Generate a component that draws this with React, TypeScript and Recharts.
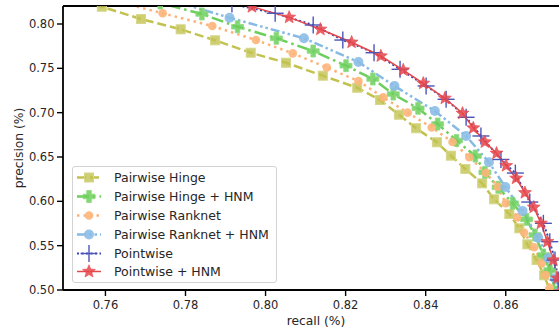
import { LineChart, Line, XAxis, YAxis, Legend, ReferenceLine } from "recharts";

// values (recall on x, precision on y)
const hingeRecall = [0.7512, 0.7591, 0.7689, 0.7788, 0.7874, 0.7963, 0.8051, 0.8143, 0.8229, 0.8286, 0.8333, 0.8376, 0.8428, 0.8463, 0.8499, 0.8541, 0.8571, 0.8609, 0.8634, 0.8654, 0.8677, 0.8696, 0.8711];
const hingePrecision = [0.8304, 0.8195, 0.8056, 0.794, 0.7816, 0.7676, 0.7563, 0.7417, 0.7281, 0.7143, 0.6977, 0.6824, 0.6666, 0.6515, 0.6365, 0.6203, 0.6023, 0.5857, 0.5696, 0.5515, 0.5338, 0.5166, 0.4977];

const hingeHnmRecall = [0.7649, 0.7737, 0.7841, 0.793, 0.8027, 0.8119, 0.8201, 0.8268, 0.8319, 0.8381, 0.843, 0.8477, 0.8524, 0.8548, 0.8581, 0.8617, 0.8652, 0.8673, 0.8694, 0.871, 0.8725];
const hingeHnmPrecision = [0.8338, 0.8237, 0.8113, 0.7969, 0.7839, 0.7695, 0.753, 0.738, 0.721, 0.7049, 0.6872, 0.6686, 0.6511, 0.6327, 0.6158, 0.5978, 0.5797, 0.562, 0.5395, 0.5226, 0.4977];

const ranknetRecall = [0.7537, 0.7619, 0.7743, 0.7867, 0.7976, 0.8068, 0.8153, 0.8232, 0.8294, 0.8355, 0.8415, 0.8467, 0.8509, 0.855, 0.858, 0.86, 0.8629, 0.8646, 0.8671, 0.869, 0.87, 0.871, 0.8718];
const ranknetPrecision = [0.8361, 0.8265, 0.8121, 0.7977, 0.7819, 0.7669, 0.7509, 0.7357, 0.7173, 0.7, 0.6833, 0.6669, 0.6497, 0.6323, 0.6165, 0.5978, 0.582, 0.5646, 0.5482, 0.5301, 0.5169, 0.5023, 0.491];

const ranknetHnmRecall = [0.7737, 0.791, 0.8096, 0.8232, 0.8322, 0.8423, 0.8501, 0.8558, 0.8599, 0.8642, 0.8681, 0.8706, 0.8723, 0.8733];
const ranknetHnmPrecision = [0.8304, 0.8071, 0.7839, 0.7571, 0.7301, 0.7019, 0.6737, 0.644, 0.6162, 0.5891, 0.559, 0.5361, 0.5132, 0.4977];

const pointRecall = [0.7824, 0.7916, 0.8024, 0.8119, 0.8193, 0.8271, 0.8336, 0.8401, 0.8451, 0.8501, 0.8538, 0.8588, 0.8624, 0.866, 0.8694, 0.871, 0.8723, 0.8731, 0.8738];
const pointPrecision = [0.8361, 0.8225, 0.8121, 0.7989, 0.7819, 0.7676, 0.7489, 0.7301, 0.7151, 0.6948, 0.6737, 0.6472, 0.6319, 0.5992, 0.5752, 0.5545, 0.5338, 0.5113, 0.4955];

const pointHnmRecall = [0.7874, 0.7966, 0.8059, 0.8137, 0.8215, 0.8288, 0.8344, 0.8394, 0.8448, 0.8492, 0.8519, 0.8548, 0.8577, 0.8601, 0.8626, 0.8648, 0.867, 0.8688, 0.8704, 0.8719, 0.8729, 0.8735];
const pointHnmPrecision = [0.8327, 0.8195, 0.8075, 0.794, 0.7794, 0.7639, 0.7481, 0.7331, 0.7162, 0.6993, 0.6827, 0.6669, 0.6542, 0.6402, 0.626, 0.6097, 0.5933, 0.5752, 0.5545, 0.5338, 0.5132, 0.4977];

const seriesNames = ["Pairwise Hinge", "Pairwise Hinge + HNM", "Pairwise Ranknet", "Pairwise Ranknet + HNM", "Pointwise", "Pointwise + HNM"];
const xTicks = [0.76, 0.78, 0.8, 0.82, 0.84, 0.86];
const yTicks = [0.5, 0.55, 0.6, 0.65, 0.7, 0.75, 0.8];
const X_DOMAIN = [0.7494, 0.8758];
const Y_DOMAIN = [0.5, 0.8203];

const zip = (r: number[], p: number[]) => r.map((v, i) => ({ recall: v, precision: p[i] }));

const FONT = "DejaVu Sans, sans-serif";
const INK = "#262626";

// marker shapes
const Square = ({ cx, cy }: any) => (
  <rect x={cx - 4.5} y={cy - 4.5} width={9} height={9} fill="#c2c24f" fillOpacity={0.8} stroke="#d6d68a" strokeWidth={1} />
);
const FatPlus = ({ cx, cy }: any) => {
  const a = 6, t = 2.3;
  const pts = [
    [-t, -a], [t, -a], [t, -t], [a, -t], [a, t], [t, t], [t, a], [-t, a], [-t, t], [-a, t], [-a, -t], [-t, -t],
  ].map(([x, y]) => `${cx + x},${cy + y}`).join(" ");
  return <polygon points={pts} fill="#6ccf5c" fillOpacity={0.85} stroke="#8fdc82" strokeWidth={0.8} />;
};
const OrangeDot = ({ cx, cy }: any) => <circle cx={cx} cy={cy} r={4.3} fill="#fdb57a" fillOpacity={0.9} />;
const BlueDot = ({ cx, cy }: any) => <circle cx={cx} cy={cy} r={5} fill="#8cbde6" fillOpacity={0.9} />;
const ThinPlus = ({ cx, cy }: any) => (
  <g stroke="#4b55b8" strokeWidth={1.4}>
    <line x1={cx - 8.5} y1={cy} x2={cx + 8.5} y2={cy} />
    <line x1={cx} y1={cy - 8.5} x2={cx} y2={cy + 8.5} />
  </g>
);
const Star = ({ cx, cy }: any) => {
  const pts: string[] = [];
  for (let i = 0; i < 10; i++) {
    const rad = i % 2 === 0 ? 6.8 : 3;
    const ang = -Math.PI / 2 + (i * Math.PI) / 5;
    pts.push(`${cx + rad * Math.cos(ang)},${cy + rad * Math.sin(ang)}`);
  }
  return <polygon points={pts.join(" ")} fill="#e6474b" fillOpacity={0.85} stroke="#e6474b" strokeWidth={0.6} />;
};

const series = [
  { name: seriesNames[0], data: zip(hingeRecall, hingePrecision), color: "#c2c24f", width: 2.5, dash: "9 4", Marker: Square },
  { name: seriesNames[1], data: zip(hingeHnmRecall, hingeHnmPrecision), color: "#6ccf5c", width: 2.5, dash: "12 4 2.5 4", Marker: FatPlus },
  { name: seriesNames[2], data: zip(ranknetRecall, ranknetPrecision), color: "#fdb27a", width: 2.5, dash: "2.5 4", Marker: OrangeDot },
  { name: seriesNames[3], data: zip(ranknetHnmRecall, ranknetHnmPrecision), color: "#86bae4", width: 2.5, dash: "9 3 2.5 3 2.5 3", Marker: BlueDot },
  { name: seriesNames[4], data: zip(pointRecall, pointPrecision), color: "#3a45b0", width: 2, dash: "2 2.5", Marker: ThinPlus },
  { name: seriesNames[5], data: zip(pointHnmRecall, pointHnmPrecision), color: "#e6474b", width: 1.5, dash: undefined, Marker: Star },
];

const renderLegend = () => (
  <div
    style={{
      width: 205,
      height: 117,
      boxSizing: "border-box",
      border: "1px solid #d3d3d3",
      borderRadius: 3,
      background: "rgba(255,255,255,0.8)",
      paddingTop: 1,
      fontFamily: FONT,
      fontSize: 12.5,
      color: INK,
    }}
  >
    {series.map((s) => (
      <div key={s.name} style={{ position: "relative", height: 18.9 }}>
        <svg width={28} height={19} style={{ position: "absolute", left: 3, top: 0 }}>
          <line x1={1} y1={9.5} x2={25} y2={9.5} stroke={s.color} strokeWidth={s.width} strokeDasharray={s.dash} />
          <s.Marker cx={13} cy={9.5} />
        </svg>
        <span style={{ position: "absolute", left: 41, top: 2, lineHeight: "15px", whiteSpace: "nowrap" }}>{s.name}</span>
      </div>
    ))}
  </div>
);

export default function App() {
  return (
    <div style={{ position: "absolute", left: 0, top: 0, width: 559, height: 331, overflow: "hidden", background: "#fff" }}>
      <LineChart width={569} height={331} margin={{ top: 6, right: 0, bottom: 0, left: 0 }}>
        <XAxis
          dataKey="recall"
          type="number"
          domain={X_DOMAIN}
          allowDataOverflow
          ticks={xTicks}
          interval={0}
          height={41}
          tickSize={6}
          tickMargin={4.5}
          tickFormatter={(v: number) => v.toFixed(2)}
          tick={{ fontSize: 11.5, fill: INK, fontFamily: FONT }}
          axisLine={{ stroke: "#000", strokeWidth: 1.8 }}
          tickLine={{ stroke: "#000", strokeWidth: 1.4 }}
        />
        <YAxis
          dataKey="precision"
          type="number"
          domain={Y_DOMAIN}
          allowDataOverflow
          ticks={yTicks}
          interval={0}
          width={63}
          tickSize={6}
          tickMargin={2.5}
          tickFormatter={(v: number) => v.toFixed(2)}
          tick={{ fontSize: 11.5, fill: INK, fontFamily: FONT }}
          axisLine={{ stroke: "#000", strokeWidth: 1.8 }}
          tickLine={{ stroke: "#000", strokeWidth: 1.4 }}
        />
        {series.map((s) => (
          <Line
            key={s.name}
            data={s.data}
            dataKey="precision"
            name={s.name}
            type="linear"
            stroke={s.color}
            strokeWidth={s.width}
            strokeDasharray={s.dash}
            dot={(p: any) => <s.Marker key={`${s.name}-${p.index}`} cx={p.cx} cy={p.cy} />}
            activeDot={false}
            isAnimationActive={false}
          />
        ))}
        <ReferenceLine y={Y_DOMAIN[1]} stroke="#000" strokeWidth={1.8} />
        <Legend
          layout="vertical"
          align="center"
          verticalAlign="middle"
          content={renderLegend}
          wrapperStyle={{ left: 72, top: 166, width: 205, height: 117 }}
        />
      </LineChart>
      <svg width={559} height={331} style={{ position: "absolute", left: 0, top: 0, pointerEvents: "none" }}>
        <text x={316} y={325} textAnchor="middle" fontSize={12.3} fill={INK} fontFamily={FONT}>
          recall (%)
        </text>
        <text transform="translate(19,148) rotate(-90)" textAnchor="middle" dy="0.35em" fontSize={12.3} fill={INK} fontFamily={FONT}>
          precision (%)
        </text>
      </svg>
    </div>
  );
}
